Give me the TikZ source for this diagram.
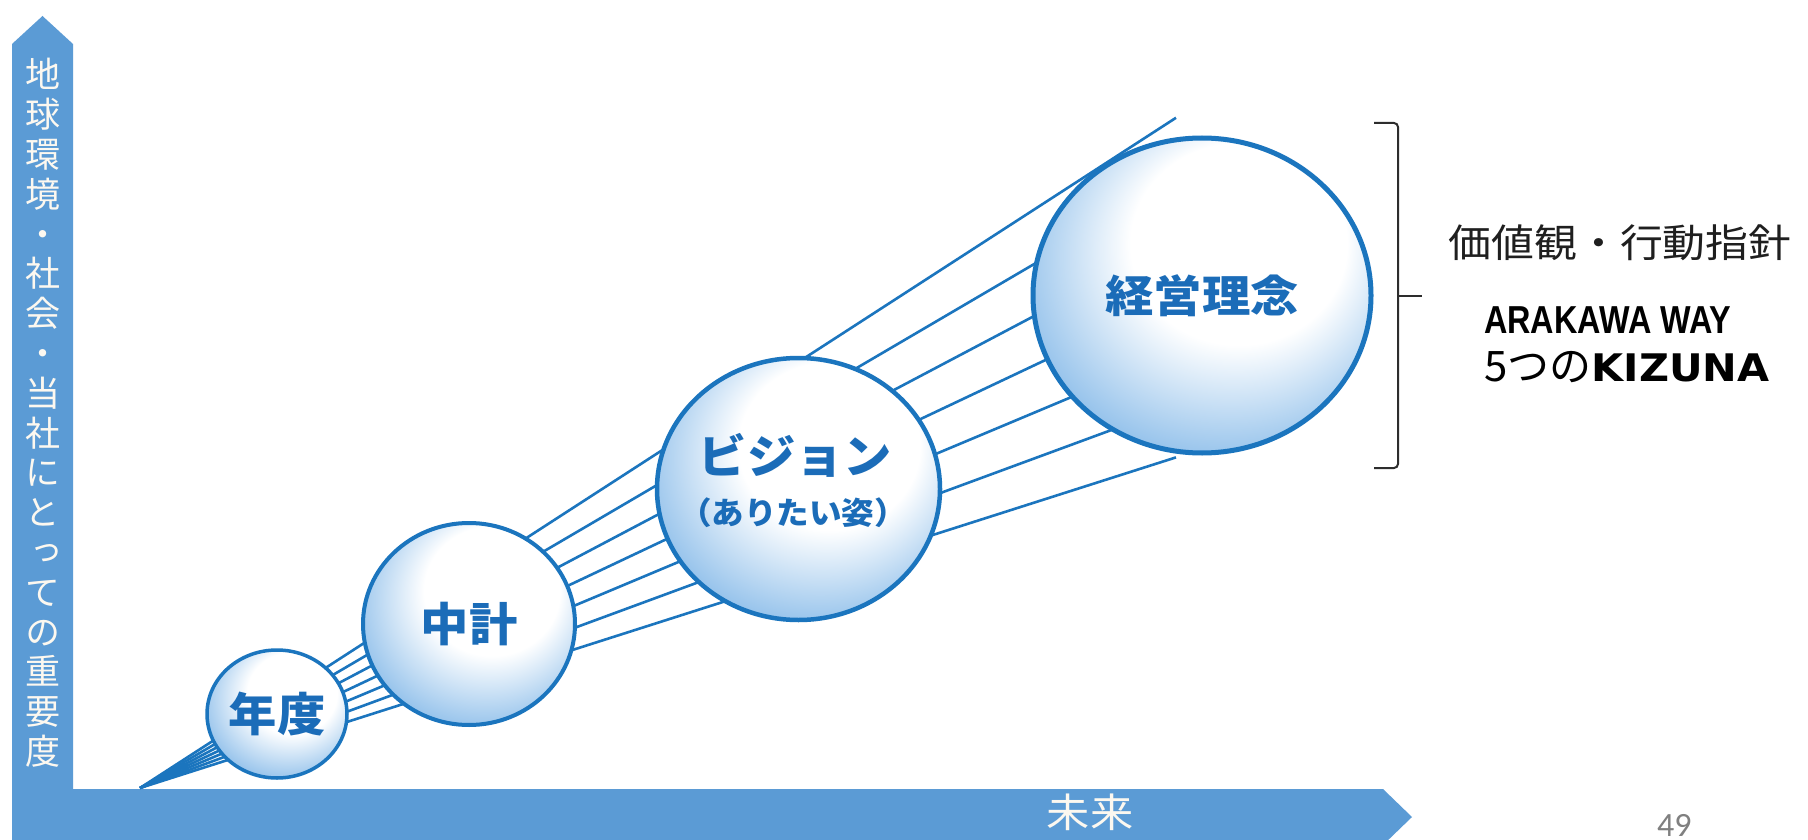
\documentclass[tikz,border=0pt]{standalone}
\usepackage{fontspec}
\usepackage{graphicx}
\usetikzlibrary{shapes.geometric}
\newfontfamily\jp{Noto Sans CJK JP}
\newfontfamily\jpv[RawFeature=+vert]{Noto Sans CJK JP}
\newfontfamily\lsans{Liberation Sans}
\newfontfamily\djv{DejaVu Sans}
\newfontfamily\carl{Carlito}
\definecolor{barblue}{RGB}{91,155,213}
\definecolor{lineblue}{RGB}{27,117,190}
\definecolor{txtblue}{RGB}{27,108,184}
\definecolor{ballblue}{RGB}{110,172,228}
\definecolor{cream}{RGB}{252,248,240}
\definecolor{brk}{RGB}{45,45,45}
\pgfdeclareradialshading{ball}{\pgfpoint{8bp}{12bp}}{color(0bp)=(white); color(16bp)=(white); color(36bp)=(ballblue); color(50bp)=(ballblue)}
\tikzset{
  ballnode/.style={ellipse, shading=ball, draw=lineblue, inner sep=0pt, text=txtblue},
  fan/.style={draw=lineblue, line width=2.6pt},
  bartext/.style={text=cream, inner sep=0pt},
  bracketline/.style={draw=brk, line width=2pt, rounded corners=4pt}
}
\begin{document}
\begin{tikzpicture}[x=1pt,y=-1pt]
\clip (0,0) rectangle (1808,840);
\fill[white] (0,0) rectangle (1808,840);
% axes
\fill[barblue] (12,840) -- (12,44) -- (42.5,16) -- (73,44) -- (73,840) -- cycle;
\fill[barblue] (12,789) -- (1383,789) -- (1412,817) -- (1383,845) -- (12,845) -- cycle;
\node[bartext, align=center, font=\jpv\fontsize{35}{39.8}\selectfont] (yaxis) at (42.5,413)
  {地\\球\\環\\境\\・\\社\\会\\・\\当\\社\\に\\と\\っ\\て\\の\\重\\要\\度};
\node[bartext, font=\jp\fontsize{40}{48}\selectfont] (xaxis) at (1090,812) {\scalebox{1.08}[1]{未来}};
% fan of lines
\coordinate (o) at (140,788);
\foreach \a in {17.7,20.23,22.77,25.3,27.83,30.37,32.9}
  \draw[fan] (o) -- ++({-\a}:{1036/cos(\a)});
% balls
\node[ballnode, line width=3.5pt, minimum width=140pt, minimum height=128pt,
      font=\jp\bfseries\fontsize{46}{50}\selectfont] (nendo) at (277,714) {\scalebox{1.05}[1]{年度}};
\node[ballnode, line width=4pt, minimum width=212pt, minimum height=202pt,
      font=\jp\bfseries\fontsize{46}{50}\selectfont] (chukei) at (469,624) {\scalebox{1.05}[1]{中計}};
\node[ballnode, line width=4.5pt, minimum width=283pt, minimum height=262pt] (vision) at (798.5,489) {};
\node[text=txtblue, inner sep=0pt, font=\jp\bfseries\fontsize{46}{50}\selectfont] (vtitle) at (795.5,455) {\scalebox{1.05}[1]{ビジョン}};
\node[text=txtblue, inner sep=0pt, font=\jp\bfseries\fontsize{31}{36}\selectfont] (vsub) at (793,513) {\scalebox{1.05}[1]{（ありたい姿）}};
\node[ballnode, line width=5pt, minimum width=338pt, minimum height=315pt,
      font=\jp\bfseries\fontsize{44}{50}\selectfont] (rinen) at (1202,295.5) {\scalebox{1.1}[1]{経営理念}};
% bracket
\coordinate (bt) at (1374,123);
\coordinate (bb) at (1374,468);
\coordinate (bm) at (1398,296);
\coordinate (bp) at (1422,296);
\draw[bracketline] (bt) -- (1398,123) -- (1398,468) -- (bb);
\draw[bracketline] (bm) -- (bp);
% right texts
\node[inner sep=0pt, text=black!88, font=\jp\fontsize{39}{44}\selectfont] (values) at (1620,243) {\scalebox{1.1}[1]{価値観・行動指針}};
\node[anchor=west, inner sep=0pt, font=\lsans\bfseries\fontsize{39}{44}\selectfont] (way) at (1484,320) {\scalebox{0.83}[1]{ARAKAWA WAY}};
\node[anchor=west, inner sep=0pt] (kizuna) at (1484,367) {{\jp\fontsize{42}{46}\selectfont 5つの}\scalebox{1.09}[1]{\djv\bfseries\fontsize{38}{44}\selectfont KIZUNA}};
\node[anchor=base west, inner sep=0pt, text=black!50, font=\carl\fontsize{34}{40}\selectfont] (page) at (1657,836) {49};
\end{tikzpicture}
\end{document}
